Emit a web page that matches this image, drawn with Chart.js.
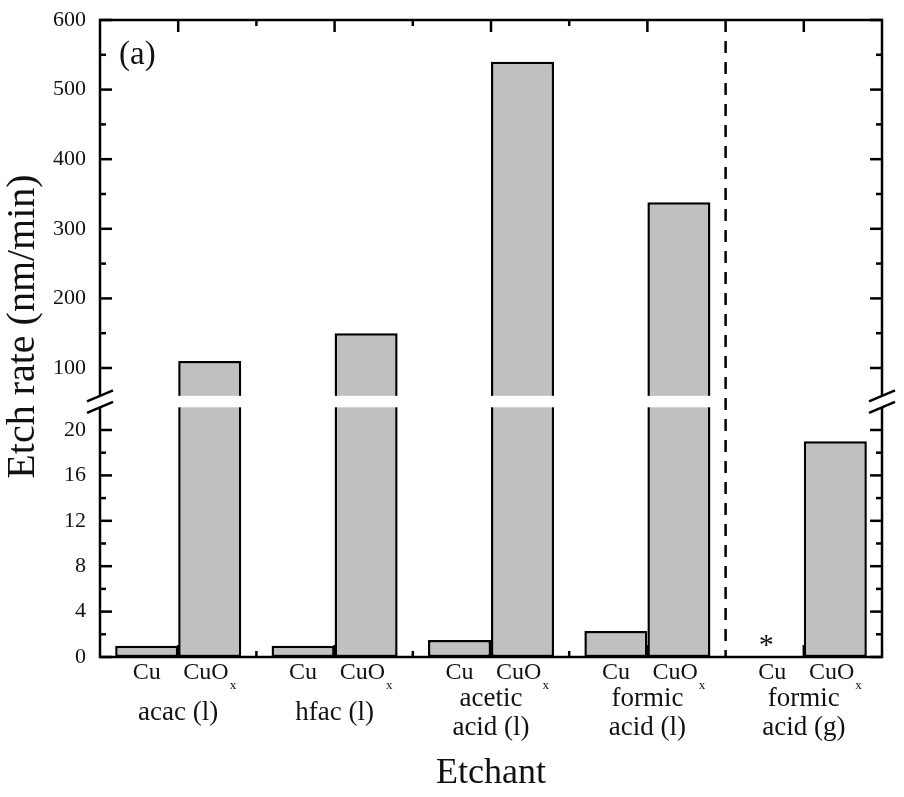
<!DOCTYPE html>
<html><head><meta charset="utf-8">
<script src="https://cdn.jsdelivr.net/npm/chart.js@4.4.1/dist/chart.umd.min.js"></script>
<style>html,body{margin:0;padding:0;background:#fff;} #wrap{width:904px;height:797px;}</style>
</head><body><div id="wrap"><canvas id="c" width="904" height="797"></canvas></div>
<script>
// ---- data ----
const categories = ['acac (l)', 'hfac (l)', 'acetic acid (l)', 'formic acid (l)', 'formic acid (g)'];
const categoryLines = [['acac (l)'], ['hfac (l)'], ['acetic', 'acid (l)'], ['formic', 'acid (l)'], ['formic', 'acid (g)']];
const seriesNames = ['Cu', 'CuO'];
const seriesSub = ['', 'x'];
const cuRates = [1.0, 1.0, 1.5, 2.3, null];
const cuoxRates = [110, 150, 540, 338, 19.0];
const notDetected = [false, false, false, false, true];   // "*" marker for Cu
const yMajorTicks = [0, 4, 8, 12, 16, 20, 100, 200, 300, 400, 500, 600];
const yMinorTicks = [2, 6, 10, 14, 18, 150, 250, 350, 450, 550];
const dividerAfterIndex = 3;   // dashed line between liquid and gas etchants
const yTitle = 'Etch rate (nm/min)';
const xTitle = 'Etchant';

// ---- axis break layout ----
const AXIS_BREAK = { low: 22, high: 60, lowFrac: 0.392, highFrac: 0.410 };
const FONT = 'Liberation Serif';

const LinearScale = Chart.registry.getScale('linear');
class BrokenLinearScale extends LinearScale {
  buildTicks() { return yMajorTicks.map(v => ({ value: v })); }
  _frac(v) {
    const b = AXIS_BREAK;
    if (v <= b.low) return v / b.low * b.lowFrac;
    if (v >= b.high) return b.highFrac + (v - b.high) / (this.max - b.high) * (1 - b.highFrac);
    return b.lowFrac + (v - b.low) / (b.high - b.low) * (b.highFrac - b.lowFrac);
  }
  getPixelForValue(v) {
    if (v === null || v === undefined || isNaN(v)) return NaN;
    return this.getPixelForDecimal(this._frac(v));
  }
  getValueForPixel(p) {
    const d = this.getDecimalForPixel(p), b = AXIS_BREAK;
    if (d <= b.lowFrac) return d / b.lowFrac * b.low;
    if (d >= b.highFrac) return b.high + (d - b.highFrac) / (1 - b.highFrac) * (this.max - b.high);
    return b.low + (d - b.lowFrac) / (b.highFrac - b.lowFrac) * (b.high - b.low);
  }
}
BrokenLinearScale.id = 'brokenLinear';
Chart.register(BrokenLinearScale);

const decor = {
  id: 'decor',
  afterDraw(chart) {
    const { ctx, chartArea: a, scales: { x, y } } = chart;
    ctx.save();
    ctx.strokeStyle = '#000'; ctx.lineWidth = 2.5; ctx.lineCap = 'butt';
    const seg = (x1, y1, x2, y2) => { ctx.beginPath(); ctx.moveTo(x1, y1); ctx.lineTo(x2, y2); ctx.stroke(); };
    // frame
    ctx.strokeRect(a.left, a.top, a.right - a.left, a.bottom - a.top);
    // y ticks, inward on both sides
    yMajorTicks.forEach(v => { const p = y.getPixelForValue(v); seg(a.left, p, a.left + 12, p); seg(a.right, p, a.right - 12, p); });
    yMinorTicks.forEach(v => { const p = y.getPixelForValue(v); seg(a.left, p, a.left + 6, p); seg(a.right, p, a.right - 6, p); });
    // x ticks
    categories.forEach((c, i) => { const p = x.getPixelForValue(i); seg(p, a.top, p, a.top + 12); seg(p, a.bottom, p, a.bottom - 12); });
    for (let i = 0; i < categories.length - 1; i++) {
      if (i === dividerAfterIndex) continue;
      const p = x.getPixelForValue(i + 0.5);
      seg(p, a.top, p, a.top + 6); seg(p, a.bottom, p, a.bottom - 6);
    }
    // axis break band
    const yHi = y.getPixelForValue(AXIS_BREAK.high), yLo = y.getPixelForValue(AXIS_BREAK.low);
    ctx.fillStyle = '#fff';
    ctx.fillRect(a.left - 10, yHi, a.right - a.left + 20, yLo - yHi);
    [a.left, a.right].forEach(ax => {
      seg(ax - 13, yHi + 5.5, ax + 13, yHi - 5.5);
      seg(ax - 13, yLo + 5.5, ax + 13, yLo - 5.5);
    });
    // dashed divider
    const dx = x.getPixelForValue(dividerAfterIndex + 0.5);
    ctx.setLineDash([12, 9]);
    seg(dx, a.top, dx, a.bottom);
    ctx.setLineDash([]);
    // panel label
    ctx.fillStyle = '#111';
    ctx.font = `33px "${FONT}"`;
    ctx.textAlign = 'left'; ctx.textBaseline = 'middle';
    ctx.fillText('(a)', a.left + 19, a.top + 35);
    // y title
    ctx.save();
    ctx.translate(23, (a.top + a.bottom) / 2 - 12);
    ctx.rotate(-Math.PI / 2);
    ctx.font = `40px "${FONT}"`; ctx.textAlign = 'center'; ctx.textBaseline = 'middle';
    ctx.fillText(yTitle, 0, 0);
    ctx.restore();
    // bar labels
    chart.data.datasets.forEach((ds, di) => {
      const meta = chart.getDatasetMeta(di);
      meta.data.forEach((el, j) => {
        const cx = el.x;
        ctx.font = `24px "${FONT}"`;
        const w1 = ctx.measureText(seriesNames[di]).width;
        ctx.font = `13px "${FONT}"`;
        const w2 = seriesSub[di] ? ctx.measureText(seriesSub[di]).width + 1 : 0;
        const sx = cx - (w1 + w2) / 2;
        ctx.textAlign = 'left'; ctx.textBaseline = 'middle';
        ctx.font = `24px "${FONT}"`;
        ctx.fillText(seriesNames[di], sx, a.bottom + 16);
        if (seriesSub[di]) { ctx.font = `13px "${FONT}"`; ctx.fillText(seriesSub[di], sx + w1 + 1, a.bottom + 29); }
        if (di === 0 && notDetected[j]) {
          ctx.font = `30px "${FONT}"`; ctx.textAlign = 'center'; ctx.textBaseline = 'alphabetic';
          ctx.fillText('*', cx - 6, y.getPixelForValue(0) - 3);
        }
      });
    });
    // category labels
    ctx.font = `27px "${FONT}"`; ctx.textAlign = 'center'; ctx.textBaseline = 'middle';
    categoryLines.forEach((lines, i) => {
      const cx = x.getPixelForValue(i);
      const lh = 29, yc = a.bottom + 56;
      lines.forEach((t, k) => ctx.fillText(t, cx, yc + (k - (lines.length - 1) / 2) * lh));
    });
    ctx.restore();
  }
};

new Chart(document.getElementById('c'), {
  type: 'bar',
  data: {
    labels: categories,
    datasets: [
      { label: 'Cu', data: cuRates, backgroundColor: '#c0c0c0', borderColor: '#000', borderWidth: 2.5, borderSkipped: false },
      { label: 'CuOx', data: cuoxRates, backgroundColor: '#c0c0c0', borderColor: '#000', borderWidth: 2.5, borderSkipped: false }
    ]
  },
  options: {
    responsive: false, animation: false, devicePixelRatio: 1,
    layout: { padding: { top: 20, right: 22, left: 0, bottom: 0 } },
    datasets: { bar: { categoryPercentage: 0.806, barPercentage: 1 } },
    plugins: { legend: { display: false }, tooltip: { enabled: false } },
    scales: {
      x: {
        type: 'category', offset: true,
        grid: { display: false }, border: { display: false }, ticks: { display: false },
        title: { display: true, text: xTitle, color: '#111', font: { family: FONT, size: 36, lineHeight: 1 }, padding: { top: 0, bottom: 5 } },
        afterFit: s => { s.height = 140; s.paddingLeft = 0; s.paddingRight = 0; }
      },
      y: {
        type: 'brokenLinear', min: 0, max: 600,
        grid: { display: false, drawTicks: false }, border: { display: false },
        ticks: { autoSkip: false, padding: 14, color: '#111', font: { family: FONT, size: 22 }, callback: v => String(v) },
        title: { display: false },
        afterFit: s => { s.width = 100; s.paddingTop = 0; s.paddingBottom = 0; }
      }
    }
  },
  plugins: [decor]
});
</script></body></html>
